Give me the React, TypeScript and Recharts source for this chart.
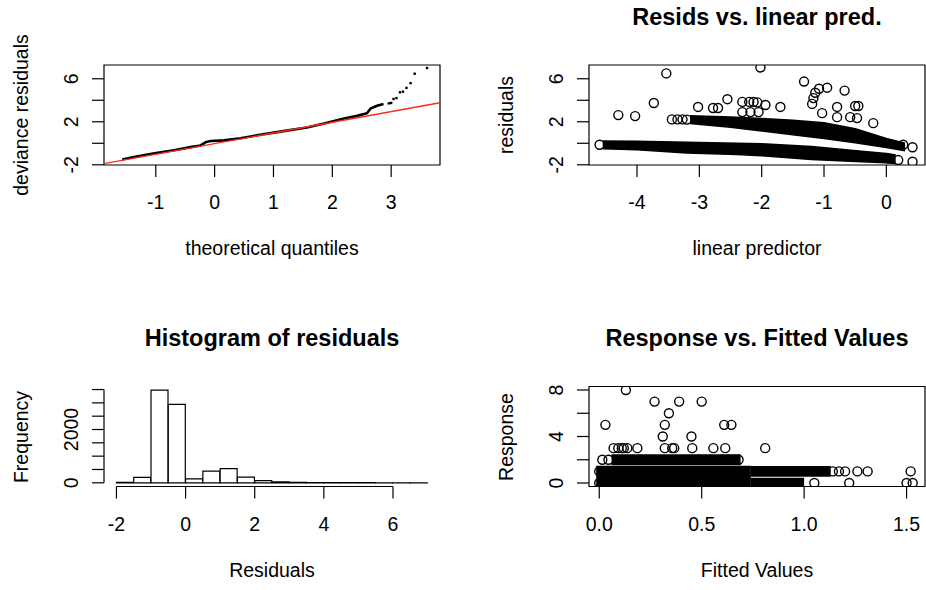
import React from "react";
import {
  ComposedChart,
  XAxis,
  YAxis,
  Line,
  Scatter,
  Area,
  Bar,
  ReferenceLine,
  ReferenceArea,
} from "recharts";

const FONT = '"Liberation Sans", Arial, Helvetica, sans-serif';
const INK = "#000";
const AXIS_FS = 19.5;
const TITLE_FS = 23.5;

// ---------------- Panel 1: QQ plot of deviance residuals ----------------
const qqX = [-1.57, -1.37, -1.14, -0.97, -0.69, -0.41, -0.24, -0.15, -0.07, 0.16, 0.44, 0.72, 1.01, 1.25, 1.57, 1.86, 2.03, 2.2, 2.42, 2.59, 2.65, 2.76, 2.87];
const qqY = [-1.51, -1.27, -1.04, -0.89, -0.64, -0.36, -0.2, 0.11, 0.21, 0.27, 0.46, 0.74, 0.99, 1.2, 1.46, 1.83, 2.08, 2.3, 2.55, 2.8, 3.24, 3.49, 3.65];
const qqTailX = [2.96, 3.0, 3.04, 3.09, 3.15, 3.2, 3.26, 3.33, 3.4, 3.61];
const qqTailY = [3.71, 3.75, 4.12, 4.2, 4.74, 4.8, 5.15, 5.59, 6.47, 7.0];
const qqRefX = [-1.88, 3.83];
const qqRefY = [-1.9, 3.77];
const qqXDomain = [-1.88, 3.83];
const qqYDomain = [-2.02, 7.28];
const qqXTicks = [-1, 0, 1, 2, 3];
const qqYTicks = [-2, 0, 2, 4, 6];
const qqYLabels = [-2, 2, 6];

// ---------------- Panel 2: residuals vs linear predictor ----------------
const lowBandX = [-4.55, -4.0, -3.2, -2.4, -2.0, -1.2, -0.4, 0.0, 0.15];
const lowBandLo = [-0.5, -0.6, -0.9, -1.05, -1.15, -1.5, -1.72, -1.82, -1.88];
const lowBandHi = [0.22, 0.2, 0.1, 0.0, -0.05, -0.3, -0.75, -0.95, -1.08];
const upBandX = [-3.15, -2.5, -2.0, -1.5, -1.0, -0.5, 0.0, 0.3];
const upBandLo = [1.85, 1.5, 1.15, 0.8, 0.45, 0.05, -0.4, -0.7];
const upBandHi = [2.55, 2.45, 2.3, 2.15, 1.9, 1.35, 0.45, 0.0];
const residPoints: [number, number][] = [
  [-4.6, -0.14], [-4.3, 2.62], [-4.03, 2.53], [-3.73, 3.75], [-3.53, 6.5],
  [-3.44, 2.22], [-3.35, 2.22], [-3.27, 2.22], [-3.2, 2.2], [-3.02, 3.38],
  [-2.78, 3.28], [-2.7, 3.28], [-2.55, 4.1], [-2.31, 3.85], [-2.2, 3.85],
  [-2.13, 3.85], [-2.07, 3.8], [-2.31, 2.9], [-2.18, 2.9], [-2.05, 2.9],
  [-2.02, 7.05], [-1.94, 3.56], [-1.7, 3.38], [-1.32, 5.74], [-1.17, 4.2],
  [-1.14, 4.7], [-1.08, 5.07], [-0.95, 5.17], [-1.19, 3.66], [-1.03, 2.8],
  [-0.79, 3.38], [-0.79, 2.43], [-0.67, 4.9], [-0.5, 3.47], [-0.45, 3.47],
  [-0.58, 2.43], [-0.47, 2.34], [-0.21, 1.87], [0.03, -1.4], [0.19, -1.56],
  [0.42, -1.72], [0.27, -0.14], [0.42, -0.37],
];
const lpXDomain = [-4.77, 0.62];
const lpYDomain = [-2.02, 7.28];
const lpXTicks = [-4, -3, -2, -1, 0];
const lpYTicks = [-2, 0, 2, 4, 6];
const lpYLabels = [-2, 2, 6];

// ---------------- Panel 3: histogram of residuals ----------------
const histMid = [-1.75, -1.25, -0.75, -0.25, 0.25, 0.75, 1.25, 1.75, 2.25, 2.75, 3.25, 3.75, 4.25, 4.75, 5.25, 5.75, 6.25, 6.75];
const histCounts = [20, 200, 3475, 2940, 150, 435, 535, 210, 85, 35, 15, 8, 5, 4, 3, 2, 2, 1];
const histXDomain = [-2.36, 7.36];
const histYDomain = [-139, 3614];
const histXTicks = [-2, 0, 2, 4, 6];
const histYTicks = [0, 500, 1000, 1500, 2000, 2500, 3000, 3500];
const histYLabels = [0, 2000];

// ---------------- Panel 4: response vs fitted values ----------------
const respPoints: [number, number][] = [
  [0.13, 8], [0.27, 7], [0.39, 7], [0.5, 7], [0.34, 6],
  [0.03, 5], [0.32, 5], [0.61, 5], [0.645, 5], [0.31, 4], [0.45, 4],
  [0.07, 3], [0.093, 3], [0.11, 3], [0.12, 3], [0.137, 3], [0.186, 3], [0.32, 3],
  [0.356, 3], [0.366, 3], [0.454, 3], [0.557, 3], [0.615, 3], [0.81, 3],
  [0.015, 2], [0.045, 2], [0.49, 2], [0.6, 2], [0.63, 2], [0.655, 2], [0.68, 2],
  [0.0, 1], [1.14, 1], [1.17, 1], [1.2, 1], [1.26, 1], [1.31, 1], [1.52, 1],
  [0.0, 0], [1.05, 0], [1.22, 0], [1.5, 0], [1.53, 0],
];
const blockX = [-0.015, 0.74];
const blockLo = [-0.4, -0.4];
const blockHi = [1.42, 1.42];
const row1X = [0.74, 1.13];
const row1Lo = [0.6, 0.6];
const row1Hi = [1.4, 1.4];
const row0X = [0.74, 1.0];
const row0Lo = [-0.4, -0.4];
const row0Hi = [0.38, 0.38];
const row2X = [0.06, 0.69];
const row2Lo = [1.6, 1.6];
const row2Hi = [2.4, 2.4];
const fvXDomain = [-0.05, 1.59];
const fvYDomain = [-0.3, 8.3];
const fvXTicks = [0, 0.5, 1.0, 1.5];
const fvYTicks = [0, 2, 4, 6, 8];
const fvYLabels = [0, 4, 8];

// ---------------- helpers ----------------
const pairs = (xs: number[], ys: number[]) => xs.map((x, i) => ({ x, y: ys[i] }));
const band = (xs: number[], lo: number[], hi: number[]) => xs.map((x, i) => ({ x, r: [lo[i], hi[i]] }));
const fromPairs = (ps: [number, number][]) => ps.map(([x, y]) => ({ x, y }));

const circleShape = (p: any) => (
  <circle cx={p.cx} cy={p.cy} r={4.5} fill="none" stroke={INK} strokeWidth={1.4} />
);
const dotShape = (p: any) => (
  <rect x={p.cx - 1.2} y={p.cy - 1.2} width={2.4} height={2.4} fill={INK} />
);

const makeXTick = (fmt: (v: number) => string) => (p: any) => (
  <text x={p.x} y={p.y + 32} textAnchor="middle" fontSize={AXIS_FS} fontFamily={FONT} fill={INK}>
    {fmt(p.payload.value)}
  </text>
);
const makeYTick = (labels: number[]) => (p: any) => {
  if (!labels.includes(p.payload.value)) return <g />;
  const bx = p.x - 14;
  return (
    <text
      x={bx}
      y={p.y}
      transform={`rotate(-90, ${bx}, ${p.y})`}
      textAnchor="middle"
      fontSize={AXIS_FS}
      fontFamily={FONT}
      fill={INK}
    >
      {String(p.payload.value)}
    </text>
  );
};

const tickLineStyle = { stroke: INK, strokeWidth: 1.2 };
const W = 463;
const H = 295;

export default function App() {
  const qqData = pairs(qqX, qqY);
  const qqTail = pairs(qqTailX, qqTailY);
  const histData = histMid.map((x, i) => ({ x, count: histCounts[i] }));

  const rotTitle = (x: number, y: number, s: string) => (
    <text
      x={x}
      y={y}
      transform={`rotate(-90, ${x}, ${y})`}
      textAnchor="middle"
      fontSize={AXIS_FS}
      fontFamily={FONT}
      fill={INK}
    >
      {s}
    </text>
  );
  const hTitle = (x: number, y: number, s: string) => (
    <text x={x} y={y} textAnchor="middle" fontSize={AXIS_FS} fontFamily={FONT} fill={INK}>
      {s}
    </text>
  );
  const mainTitle = (x: number, y: number, s: string) => (
    <text x={x} y={y} textAnchor="middle" fontSize={TITLE_FS} fontWeight="bold" fontFamily={FONT} fill={INK}>
      {s}
    </text>
  );

  const bandArea = (data: any[]) => (
    <Area data={data} dataKey="r" type="linear" fill={INK} fillOpacity={1} stroke={INK} strokeWidth={1.5}
      dot={false} activeDot={false} isAnimationActive={false} />
  );

  return (
    <div style={{ position: "absolute", left: 0, top: 0, width: 926, height: 590, background: "#fff", overflow: "hidden" }}>
      {/* Panel 1 */}
      <div style={{ position: "absolute", left: 0, top: 0 }}>
        <ComposedChart width={W} height={H} margin={{ top: 65, right: 23, bottom: 0, left: 0 }}>
          <XAxis type="number" dataKey="x" domain={qqXDomain} ticks={qqXTicks} allowDataOverflow interval={0}
            axisLine={false} tickLine={tickLineStyle} tickSize={12} tickMargin={0} height={130}
            tick={makeXTick((v) => String(v))} />
          <YAxis type="number" dataKey="y" domain={qqYDomain} ticks={qqYTicks} allowDataOverflow interval={0}
            axisLine={false} tickLine={tickLineStyle} tickSize={12} tickMargin={0} width={104}
            tick={makeYTick(qqYLabels)} />
          <Line data={qqData} dataKey="y" type="linear" stroke={INK} strokeWidth={2.6} dot={false} activeDot={false} isAnimationActive={false} />
          <Scatter data={qqTail} dataKey="y" shape={dotShape} isAnimationActive={false} />
          <ReferenceLine segment={[{ x: qqRefX[0], y: qqRefY[0] }, { x: qqRefX[1], y: qqRefY[1] }]} stroke="#ff2a1a" strokeWidth={1.3} ifOverflow="visible" />
          <ReferenceArea x1={qqXDomain[0]} x2={qqXDomain[1]} y1={qqYDomain[0]} y2={qqYDomain[1]} fill="none" stroke={INK} strokeWidth={1.2} ifOverflow="visible" />
        </ComposedChart>
      </div>

      {/* Panel 2 */}
      <div style={{ position: "absolute", left: W, top: 0 }}>
        <ComposedChart width={W} height={H} margin={{ top: 65, right: 1, bottom: 0, left: 0 }}>
          <XAxis type="number" dataKey="x" domain={lpXDomain} ticks={lpXTicks} allowDataOverflow interval={0}
            axisLine={false} tickLine={tickLineStyle} tickSize={12} tickMargin={0} height={130}
            tick={makeXTick((v) => String(v))} />
          <YAxis type="number" dataKey="y" domain={lpYDomain} ticks={lpYTicks} allowDataOverflow interval={0}
            axisLine={false} tickLine={tickLineStyle} tickSize={12} tickMargin={0} width={126}
            tick={makeYTick(lpYLabels)} />
          {bandArea(band(lowBandX, lowBandLo, lowBandHi))}
          {bandArea(band(upBandX, upBandLo, upBandHi))}
          <Scatter data={fromPairs(residPoints)} dataKey="y" shape={circleShape} isAnimationActive={false} />
          <ReferenceArea x1={lpXDomain[0]} x2={lpXDomain[1]} y1={lpYDomain[0]} y2={lpYDomain[1]} fill="none" stroke={INK} strokeWidth={1.2} ifOverflow="visible" />
        </ComposedChart>
      </div>

      {/* Panel 3 */}
      <div style={{ position: "absolute", left: 0, top: H }}>
        <ComposedChart width={W} height={H} data={histData} margin={{ top: 91.5, right: 23, bottom: 0, left: 0 }} barCategoryGap={0} barGap={0}>
          <XAxis type="number" dataKey="x" domain={histXDomain} ticks={histXTicks} allowDataOverflow interval={0}
            axisLine={false} tickLine={tickLineStyle} tickSize={12} tickMargin={0} height={103.5}
            tick={makeXTick((v) => String(v))} />
          <YAxis type="number" domain={histYDomain} ticks={histYTicks} allowDataOverflow interval={0}
            axisLine={false} tickLine={tickLineStyle} tickSize={12} tickMargin={0} width={104}
            tick={makeYTick(histYLabels)} />
          <Bar dataKey="count" fill="#fff" stroke={INK} strokeWidth={1.2} isAnimationActive={false} />
          <ReferenceLine segment={[{ x: histXTicks[0], y: histYDomain[0] }, { x: histXTicks[histXTicks.length - 1], y: histYDomain[0] }]} stroke={INK} strokeWidth={1.2} ifOverflow="visible" />
          <ReferenceLine segment={[{ x: histXDomain[0], y: histYTicks[0] }, { x: histXDomain[0], y: histYTicks[histYTicks.length - 1] }]} stroke={INK} strokeWidth={1.2} ifOverflow="visible" />
        </ComposedChart>
      </div>

      {/* Panel 4 */}
      <div style={{ position: "absolute", left: W, top: H }}>
        <ComposedChart width={W} height={H} margin={{ top: 91.5, right: 1, bottom: 0, left: 0 }}>
          <XAxis type="number" dataKey="x" domain={fvXDomain} ticks={fvXTicks} allowDataOverflow interval={0}
            axisLine={false} tickLine={tickLineStyle} tickSize={12} tickMargin={0} height={103.5}
            tick={makeXTick((v) => v.toFixed(1))} />
          <YAxis type="number" dataKey="y" domain={fvYDomain} ticks={fvYTicks} allowDataOverflow interval={0}
            axisLine={false} tickLine={tickLineStyle} tickSize={12} tickMargin={0} width={126}
            tick={makeYTick(fvYLabels)} />
          {bandArea(band(blockX, blockLo, blockHi))}
          {bandArea(band(row1X, row1Lo, row1Hi))}
          {bandArea(band(row0X, row0Lo, row0Hi))}
          {bandArea(band(row2X, row2Lo, row2Hi))}
          <Scatter data={fromPairs(respPoints)} dataKey="y" shape={circleShape} isAnimationActive={false} />
          <ReferenceArea x1={fvXDomain[0]} x2={fvXDomain[1]} y1={fvYDomain[0]} y2={fvYDomain[1]} fill="none" stroke={INK} strokeWidth={1.2} ifOverflow="visible" />
        </ComposedChart>
      </div>

      {/* Titles and axis titles */}
      <svg width={926} height={590} style={{ position: "absolute", left: 0, top: 0, pointerEvents: "none" }}>
        {mainTitle(757, 25, "Resids vs. linear pred.")}
        {mainTitle(272, 346, "Histogram of residuals")}
        {mainTitle(757, 346, "Response vs. Fitted Values")}
        {hTitle(272, 255, "theoretical quantiles")}
        {hTitle(757, 255, "linear predictor")}
        {hTitle(272, 577, "Residuals")}
        {hTitle(757, 577, "Fitted Values")}
        {rotTitle(28, 115, "deviance residuals")}
        {rotTitle(513, 115, "residuals")}
        {rotTitle(28, 437, "Frequency")}
        {rotTitle(513, 437, "Response")}
      </svg>
    </div>
  );
}
